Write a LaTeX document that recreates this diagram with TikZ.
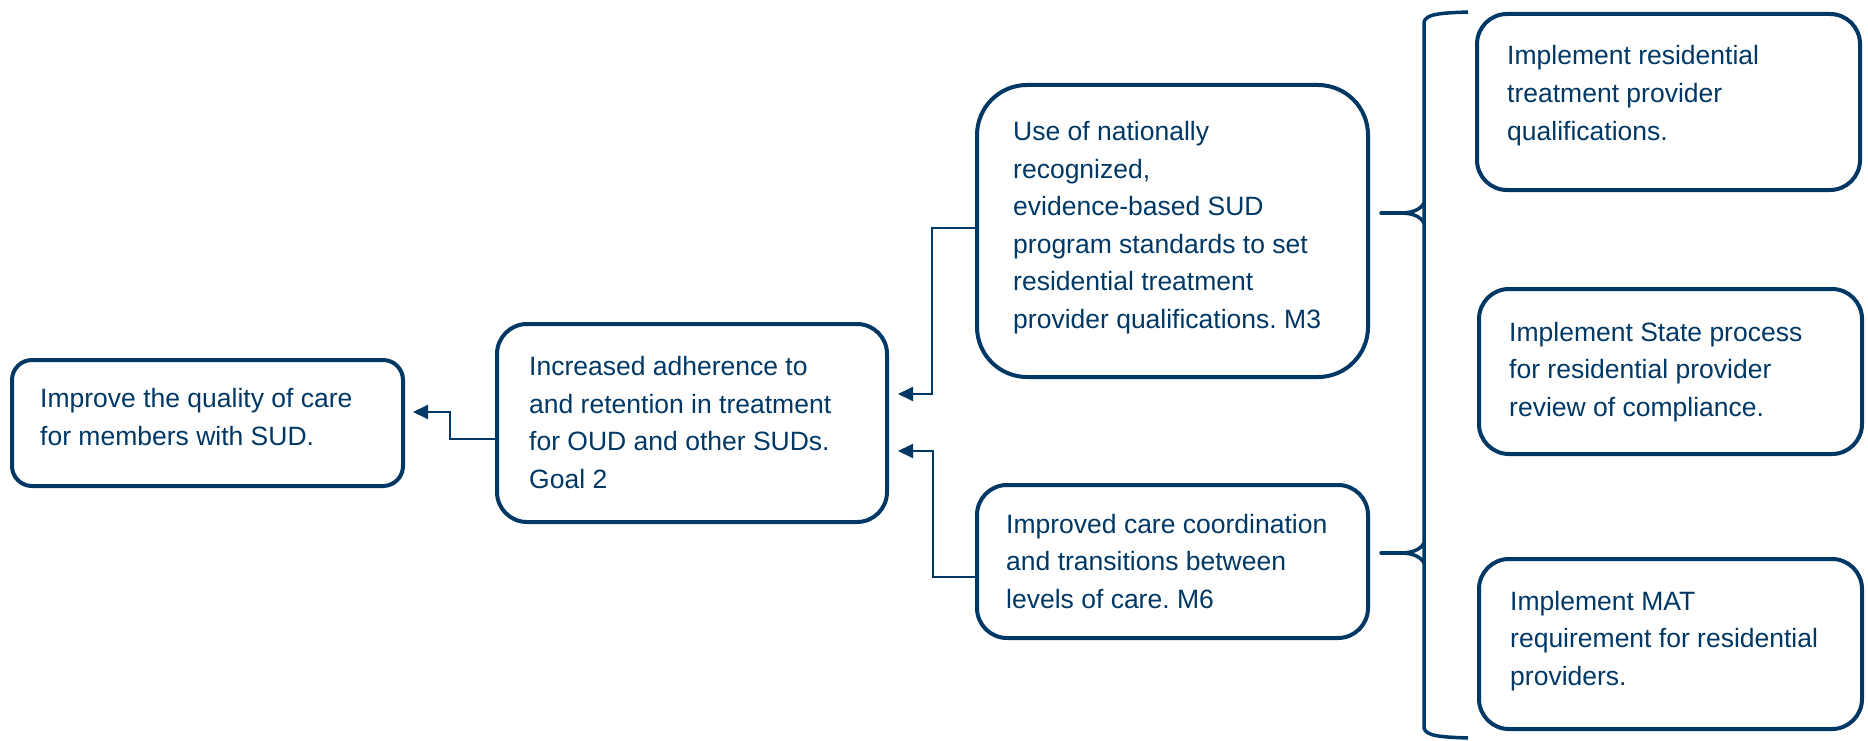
\documentclass[tikz,border=0pt]{standalone}
\usepackage{fontspec}
\setmainfont{Liberation Sans}
\usetikzlibrary{arrows.meta}
\definecolor{navy}{RGB}{0,56,101}
\frenchspacing
\begin{document}
\begin{tikzpicture}[x=1pt,y=-1pt,
  box/.style={draw=navy, line width=4pt, inner sep=0pt, fill=white},
  txt/.style={anchor=base west, align=left, inner sep=0pt, text=navy,
    font=\fontsize{26.5}{37.5}\selectfont},
  conn/.style={draw=navy, line width=2pt, -{Triangle[length=15pt,width=14pt]}},
  bracestroke/.style={draw=navy, line width=3.5pt, line cap=round}]
\useasboundingbox[fill=white] (0,0) rectangle (1868,741);
% boxes
\node[box, rounded corners=20pt, minimum width=391pt, minimum height=126pt] (A) at (207.5,423) {};
\node[box, rounded corners=30pt, minimum width=390pt, minimum height=198pt] (B) at (692,423) {};
\node[box, rounded corners=50pt, minimum width=391pt, minimum height=292pt] (C) at (1172.5,231) {};
\node[box, rounded corners=30pt, minimum width=391pt, minimum height=153pt] (D) at (1172.5,561.5) {};
\node[box, rounded corners=30pt, minimum width=383pt, minimum height=176pt] (E1) at (1668.5,102) {};
\node[box, rounded corners=30pt, minimum width=383pt, minimum height=165pt] (E2) at (1670.5,371.5) {};
\node[box, rounded corners=30pt, minimum width=383pt, minimum height=170pt] (E3) at (1670.5,644) {};
% texts (anchored at the baseline of the last line)
\node[txt] (tA) at (40,445) {Improve the quality of care\\for members with SUD.};
\node[txt] (tB) at (529,488) {Increased adherence to\\and retention in treatment\\for OUD and other SUDs.\\Goal 2};
\node[txt] (tC) at (1013,328) {Use of nationally\\recognized,\\evidence-based SUD\\program standards to set\\residential treatment\\provider qualifications. M3};
\node[txt] (tD) at (1006,608) {Improved care coordination\\and transitions between\\levels of care. M6};
\node[txt] (tE1) at (1507,140) {Implement residential\\treatment provider\\qualifications.};
\node[txt] (tE2) at (1509,416) {Implement State process\\for residential provider\\review of compliance.};
\node[txt] (tE3) at (1510,685) {Implement MAT\\requirement for residential\\providers.};
% connectors
\draw[conn] ([yshift=-16pt]B.west) -- ++(-45,0) |- ([shift={(8pt,11pt)}]A.east);
\draw[conn] ([yshift=3pt]C.west) -- ++(-43,0) |- ([shift={(9pt,29pt)}]B.east);
\draw[conn] ([yshift=-15pt]D.west) -- ++(-42,0) |- ([shift={(9pt,-28pt)}]B.east);
% brace
\draw[bracestroke, line cap=butt] (1468,12) .. controls (1440,13) and (1426,14) .. (1424,22) -- (1424,728) .. controls (1426,736) and (1440,737) .. (1468,738);
\coordinate (k1) at (1400,213);
\coordinate (k2) at (1400,553);
\draw[bracestroke] (1381,213) -- (k1);
\draw[bracestroke] (1424,203) .. controls (1420,210) and (1412,213) .. (k1) (1424,223) .. controls (1420,216) and (1412,213) .. (k1);
\draw[bracestroke] (1381,553) -- (k2);
\draw[bracestroke] (1424,543) .. controls (1420,550) and (1412,553) .. (k2) (1424,563) .. controls (1420,556) and (1412,553) .. (k2);
\end{tikzpicture}
\end{document}
